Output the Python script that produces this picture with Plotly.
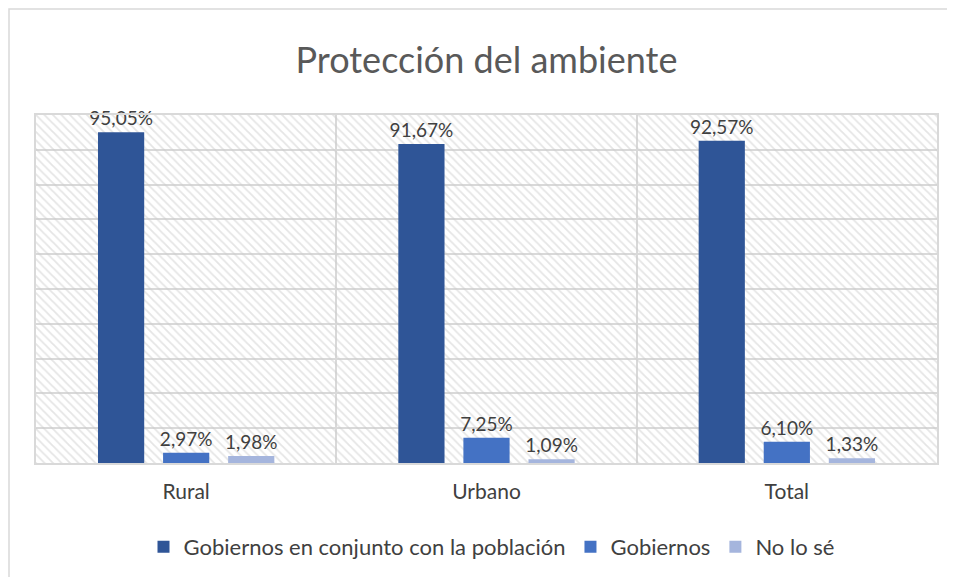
import plotly.graph_objects as go

categories = ['Rural', 'Urbano', 'Total']
conjunto = [95.05, 91.67, 92.57]
gobiernos = [2.97, 7.25, 6.10]
no_lo_se = [1.98, 1.09, 1.33]

series = [
    ('Gobiernos en conjunto con la población', conjunto, '#2F5597'),
    ('Gobiernos', gobiernos, '#4472C4'),
    ('No lo sé', no_lo_se, '#A5B5DD'),
]

font = 'Lato, "Open Sans", sans-serif'
grey = '#d9d9d9'

# the page body has an 8px margin, so the figure is sized to the window minus that
W, H = 947, 569

fig = go.Figure()

# hatched background of the plot area (main subplot, under the bars)
fig.add_trace(go.Bar(x=[1], y=[100], width=[3], showlegend=False, hoverinfo='skip',
                     marker=dict(color='rgba(0,0,0,0)', line_width=0,
                                 pattern=dict(shape='\\', fgcolor='#cccccc', bgcolor='rgba(0,0,0,0)',
                                              size=6, solidity=0.3, fillmode='overlay'))))

for name, vals, color in series:
    fig.add_trace(go.Bar(x=categories, y=vals, name=name, xaxis='x2', yaxis='y',
                         marker=dict(color=color, line_width=0),
                         texttemplate='%{y:.2f}%', textposition='outside', cliponaxis=False,
                         constraintext='none',
                         textfont=dict(size=19, color='#404040', family=font)))

fig.update_layout(
    width=W, height=H,
    margin=dict(l=28, r=18, t=107, b=114),
    paper_bgcolor='white', plot_bgcolor='white',
    separators=',.',
    barmode='group', bargap=0.35, bargroupgap=0.29,
    font=dict(family=font, color='#404040'),
    title=dict(text='Protección del ambiente', x=0.5, xref='paper', xanchor='center',
               y=1 - 52 / H, yref='container', yanchor='middle',
               font=dict(size=36, color='#595959', family=font)),
    xaxis=dict(range=[-0.5, 2.5], tick0=0.5, dtick=1, showgrid=True, gridcolor=grey, gridwidth=1.5,
               showticklabels=False, zeroline=False, showline=True, linecolor=grey, linewidth=1.5,
               mirror=True),
    xaxis2=dict(overlaying='x', type='category', side='bottom', showgrid=False,
                ticks='outside', ticklen=10, tickcolor='rgba(0,0,0,0)',
                tickfont=dict(size=21, color='#404040')),
    yaxis=dict(range=[0, 100], dtick=10, showgrid=True, gridcolor=grey, gridwidth=1.5,
               showticklabels=False, zeroline=False, showline=True, linecolor=grey,
               linewidth=1.5, mirror=True),
    legend=dict(orientation='h', x=0.5 + 10 / W, xanchor='center', xref='container',
                y=1 - 539 / H, yref='container', yanchor='middle',
                font=dict(size=22, color='#404040'), tracegroupgap=0),
    shapes=[dict(type='rect', xref='paper', yref='paper', x0=-27 / 901, x1=1.2, y0=-0.5,
                 y1=1 + 106 / 348, line=dict(color=grey, width=1.5), layer='below')],
)

fig.write_html('out.html')
